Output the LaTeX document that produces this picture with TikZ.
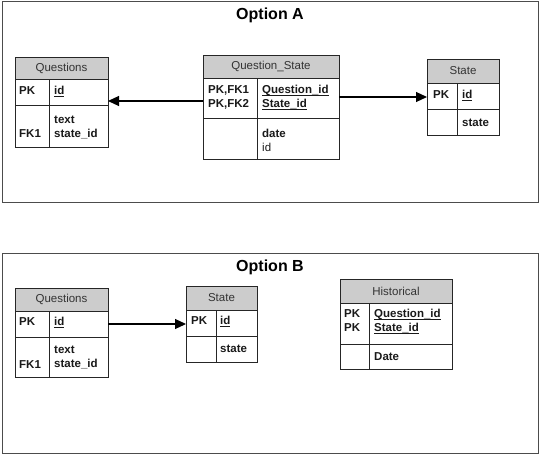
\documentclass[tikz,border=0pt]{standalone}
\usepackage{fontspec}
\setmainfont{Liberation Sans}
\usetikzlibrary{arrows.meta}
\newcommand\ulx[1]{{\setbox0\hbox{#1}\rlap{\rule[-2pt]{\wd0}{0.6pt}}\box0}}
\newcommand\ertable[9]{%
  \fill[hdr] (#2,#3) rectangle (#4,#5);
  \coordinate (#1-nw) at (#2,#3);
  \coordinate (#1-se) at (#4,#7);
  \draw[tline] (#1-nw) rectangle (#1-se);
  \draw[tline] (#2,#5) -- (#4,#5) (#2,#6) -- (#4,#6) (#8,#5) -- (#8,#7);
  \node[htxt] (#1-title) at ({(#2+#4)/2},{(#3+#5)/2}) {#9};
}
\begin{document}
\begin{tikzpicture}[x=1pt,y=-1pt,
  frame/.style={draw=black!70, line width=1pt},
  tline/.style={draw=black!85, line width=1pt},
  hdr/.style={fill=black!20},
  htxt/.style={font=\fontsize{11.5}{13}\selectfont, text=black!80, inner sep=0},
  ftxt/.style={font=\fontsize{11.5}{14}\selectfont\bfseries, text=black!90, anchor=west, inner sep=0, align=left},
  ttl/.style={font=\fontsize{16}{18}\selectfont\bfseries, inner sep=0},
  arr/.style={-{Triangle[length=11pt,width=10pt]}, line width=1.1pt}]
\useasboundingbox (0,0) rectangle (540,455);
% ---------- Option A ----------
\draw[frame] (2,1) rectangle (538,202);
\node[ttl] (tA) at (270,15) {Option A};
\ertable{qA}{15}{57}{108}{79}{105}{147}{49}{Questions}
\node[ftxt] (qA-k1) at (19,91) {PK};
\node[ftxt] (qA-f1) at (54,91) {\ulx{id}};
\node[ftxt] (qA-k2) at (19,134) {FK1};
\node[ftxt] (qA-f2) at (54,127) {text\\state\_id};
\ertable{qsA}{203}{55}{339}{78}{118}{159}{257}{Question\_State}
\node[ftxt] (qsA-k1) at (208,97) {PK,FK1\\PK,FK2};
\node[ftxt] (qsA-f1) at (262,97) {\ulx{Question\_id}\\\ulx{State\_id}};
\node[ftxt] (qsA-f2) at (262,140) {date\\\mdseries id};
\ertable{sA}{427}{59}{499}{83}{109}{135}{457}{State}
\node[ftxt] (sA-k1) at (433,95) {PK};
\node[ftxt] (sA-f1) at (462,95) {\ulx{id}};
\node[ftxt] (sA-f2) at (462,123) {state};
\draw[arr] (qsA-nw |- 0,101) -- (qA-se |- 0,101);
\draw[arr] (qsA-se |- 0,97) -- (sA-nw |- 0,97);
% ---------- Option B ----------
\draw[frame] (2,253) rectangle (538,453);
\node[ttl] (tB) at (270,267) {Option B};
\ertable{qB}{15}{288}{108}{311}{337}{377}{49}{Questions}
\node[ftxt] (qB-k1) at (19,322) {PK};
\node[ftxt] (qB-f1) at (54,322) {\ulx{id}};
\node[ftxt] (qB-k2) at (19,365) {FK1};
\node[ftxt] (qB-f2) at (54,357.5) {text\\state\_id};
\ertable{sB}{186}{286}{257}{310}{336}{362}{216}{State}
\node[ftxt] (sB-k1) at (191,321) {PK};
\node[ftxt] (sB-f1) at (220,321) {\ulx{id}};
\node[ftxt] (sB-f2) at (220,349) {state};
\ertable{hB}{340}{279}{452}{303}{344}{369}{369}{Historical}
\node[ftxt] (hB-k1) at (344,321) {PK\\PK};
\node[ftxt] (hB-f1) at (374,321) {\ulx{Question\_id}\\\ulx{State\_id}};
\node[ftxt] (hB-f2) at (374,357) {Date};
\draw[arr] (qB-se |- 0,324) -- (sB-nw |- 0,324);
\end{tikzpicture}
\end{document}
